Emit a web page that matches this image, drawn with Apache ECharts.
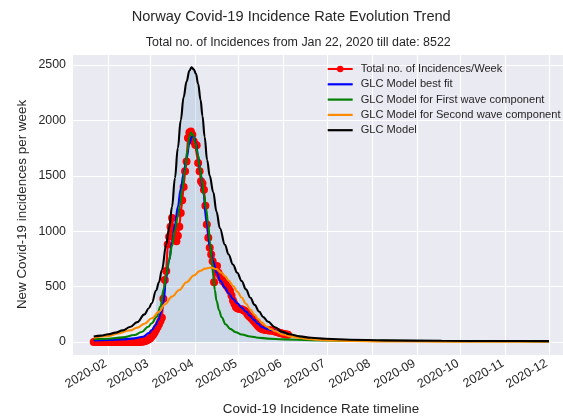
<!DOCTYPE html>
<html>
<head>
<meta charset="utf-8">
<script src="https://cdn.jsdelivr.net/npm/echarts@6/dist/echarts.min.js"></script>
<style>
html,body{margin:0;padding:0;background:#fff;}
#chart{width:563px;height:419px;}
</style>
</head>
<body>
<div id="chart"></div>
<script>
// ---- data (day offsets counted from 2020-01-22) ----
const startDate = [2020, 0, 22];
const seriesNames = ['Total no. of Incidences/Week', 'GLC Model best fit', 'GLC Model for First wave component', 'GLC Model for Second wave component', 'GLC Model'];
const chartTitle = 'Norway Covid-19 Incidence Rate Evolution Trend';
const chartSubtitle = 'Total no. of Incidences from Jan 22, 2020 till date: 8522';
const xAxisTitle = 'Covid-19 Incidence Rate timeline';
const yAxisTitle = 'New Covid-19 incidences per week';

// observed weekly incidences, one value per day from day 0 (Jan 22)
const weeklyIncidences = [
  0,0,0,0,0,0,0,0,0,0,0,0,0,0,0,0,0,0,0,0,0,0,0,0,0,0,0,0,0,0,0,
  1,2,3,5,8,12,18,25,35,50,65,85,110,135,160,190,220,
  390,560,640,880,950,1040,1120,1010,930,910,960,1040,1165,1280,1400,1540,1630,1840,
  1890,1900,1870,1810,1780,1775,1615,1540,1450,1430,1375,1230,1060,940,850,790,730,540,
  680,685,625,600,580,550,540,520,500,480,460,420,375,345,315,305,300,298,295,290,283,
  270,250,235,223,210,195,180,165,150,135,125,118,113,110,108,106,104,104,103,100,96,
  92,88,84,80,76,72,70,68,66
];

const bestFitDays   = [0,10,20,28,34,38,40,42.5,44.5,46.5,48,50,52,54,56,58,60,62,64,66,67.5,69,70.5,72,73.5,75.5,77.9,80.1,82.4,84.7,87.5,90.5,93,96.2,99,102,105,107.7,110.5,113.4,116,119.2,122,125,128,130.7,134];
const bestFitValues = [15,18,24,33,48,80,108,150,198,270,350,580,740,900,1060,1220,1380,1520,1660,1790,1850,1855,1790,1680,1540,1354,1080,860,729,625,550,491,440,387,350,312,275,238,200,164,135,119,110,104,92,80,70];

const firstWaveDays   = [0,10,20,28,33,37.6,40,43.4,46,48.3,50,52,54,56,58,59.4,61,62.9,64.5,66,67,68.5,70,71.5,73,74.5,76,77.5,79,80.2,81.3,82.4,83.5,84.7,86.5,88.2,91,94,98,102,108,113.4,120,130.7,150,177,220,314];
const firstWaveValues = [25,30,42,63,90,138,170,228,320,480,600,740,870,1011,1130,1230,1380,1552,1720,1850,1890,1870,1800,1710,1590,1460,1330,1200,1056,900,759,600,470,372,285,223,160,119,88,68,50,39,31,24,17,12,9,6];

const secondWaveDays   = [0,10,17,25,30,35,40,45,49,54,59,64,69,73,77,81,84.7,88,90.5,93,96.2,99,102,105,108,111,113.4,116,119.2,122,125,130.7,136,142,150,153.7,165,177,200,240,314];
const secondWaveValues = [38,55,78,105,130,165,215,272,340,410,470,540,600,640,662,672,658,625,595,555,506,455,402,345,293,245,208,175,140,118,98,68,50,36,25,21,14,9,6,4,2];

const glcDays   = [0,5,10,15,20,25,30,35,38,40,43,45,47,50,52,54,56,58,60,62,64,66,67.5,69,70.5,72,73.7,75,76.5,78.2,80,82.4,84.7,87,90.5,93,96,99,102,105,108,111,114,117,120,125,130,135,142,150,160,177,200,240,280,314];
const glcValues = [50,58,70,85,105,135,180,250,305,350,465,540,650,880,1030,1220,1480,1750,2000,2210,2350,2450,2479,2460,2420,2330,2184,2040,1850,1643,1500,1354,1176,1027,878,790,700,625,551,475,400,335,275,225,185,134,93,70,51,38,29,21,15,11,9,8];

const fillStartDay = 43;
const xMinDay = -15, xMaxDay = 323.66;
const yMin = -117, yMax = 2599;

// ---- build ----
const BASE = new Date(startDate[0], startDate[1], startDate[2]).getTime();
const DAY = 86400000;
const t = d => BASE + d * DAY;
const pairs = (days, vals) => days.map((d, i) => [t(d), vals[i]]);

const redData = weeklyIncidences.map((v, i) => [t(i), v]);
const fillDays = [], fillVals = [];
glcDays.forEach((d, i) => { if (d >= fillStartDay) { fillDays.push(d); fillVals.push(glcValues[i]); } });

const FONT = '"Liberation Sans", Arial, sans-serif';
const TXT = '#262626';
const LINE_ICON = 'path://M0,0 L25,0 L25,2.2 L0,2.2 Z';

const chart = echarts.init(document.getElementById('chart'), null, {renderer: 'canvas'});
const modelLine = (name, color, days, vals, z) => ({
  name, type: 'line', data: pairs(days, vals), symbol: 'none', smooth: 0.4, smoothMonotone: 'x',
  lineStyle: {color, width: 2.1}, itemStyle: {color}, z, animation: false
});

chart.setOption({
  animation: false,
  backgroundColor: '#ffffff',
  grid: {left: 72, right: 0, top: 54, bottom: 64, show: true, backgroundColor: '#EAEAF2', borderWidth: 0, containLabel: false, outerBoundsMode: 'none'},
  xAxis: {
    type: 'time', min: t(xMinDay), max: t(xMaxDay), splitNumber: 11,
    minInterval: 28 * DAY, maxInterval: 31 * DAY,
    axisLine: {show: false}, axisTick: {show: false},
    splitLine: {show: true, lineStyle: {color: '#ffffff', width: 1.1}},
    axisLabel: {formatter: '{yyyy}-{MM}', rotate: 30, margin: 6, padding: [0, 3, 0, 0], color: TXT, fontFamily: FONT, fontSize: 12.4, showMinLabel: false, showMaxLabel: false}
  },
  yAxis: {
    type: 'value', min: yMin, max: yMax, splitNumber: 5,
    axisLine: {show: false}, axisTick: {show: false},
    splitLine: {show: true, lineStyle: {color: '#ffffff', width: 1.1}},
    axisLabel: {color: TXT, fontFamily: FONT, fontSize: 12.4, margin: 6,
      formatter: v => (Math.abs(v % 500) < 1e-6 ? String(v) : '')}
  },
  legend: {
    orient: 'vertical', left: 326.7, top: 63, padding: 0,
    itemWidth: 25, itemHeight: 8, itemGap: 3.3, symbolKeepAspect: true,
    data: seriesNames.map((n, i) => (i === 0 ? {name: n} : {name: n, icon: LINE_ICON})),
    textStyle: {color: TXT, fontFamily: FONT, fontSize: 11.1, lineHeight: 12, padding: [0, 0, 0, 3]}
  },
  graphic: [
    {type: 'text', x: 291.2, y: 16.5, style: {text: chartTitle, fill: TXT, font: '14.6px ' + FONT, textAlign: 'center', textVerticalAlign: 'middle'}},
    {type: 'text', x: 298.3, y: 43, style: {text: chartSubtitle, fill: TXT, font: '12.45px ' + FONT, textAlign: 'center', textVerticalAlign: 'middle'}},
    {type: 'text', x: 321, y: 409, style: {text: xAxisTitle, fill: TXT, font: '13.4px ' + FONT, textAlign: 'center', textVerticalAlign: 'middle'}},
    {type: 'text', x: 22, y: 204.5, rotation: Math.PI / 2, style: {text: yAxisTitle, fill: TXT, font: '13.4px ' + FONT, textAlign: 'center', textVerticalAlign: 'middle'}}
  ],
  series: [
    {name: 'fill', type: 'line', data: pairs(fillDays, fillVals), symbol: 'none', smooth: 0.4, smoothMonotone: 'x',
      lineStyle: {width: 0, opacity: 0}, areaStyle: {color: 'rgba(70,130,180,0.25)'}, z: 1, silent: true},
    {name: seriesNames[0], type: 'line', data: redData, symbol: 'circle', symbolSize: 8, showAllSymbol: true,
      lineStyle: {color: '#ff0000', width: 2.1}, itemStyle: {color: '#ff0000'}, z: 2},
    modelLine(seriesNames[1], '#0000ff', bestFitDays, bestFitValues, 3),
    modelLine(seriesNames[2], '#008000', firstWaveDays, firstWaveValues, 4),
    modelLine(seriesNames[3], '#ff8c00', secondWaveDays, secondWaveValues, 5),
    modelLine(seriesNames[4], '#000000', glcDays, glcValues, 6)
  ]
});
</script>
</body>
</html>
